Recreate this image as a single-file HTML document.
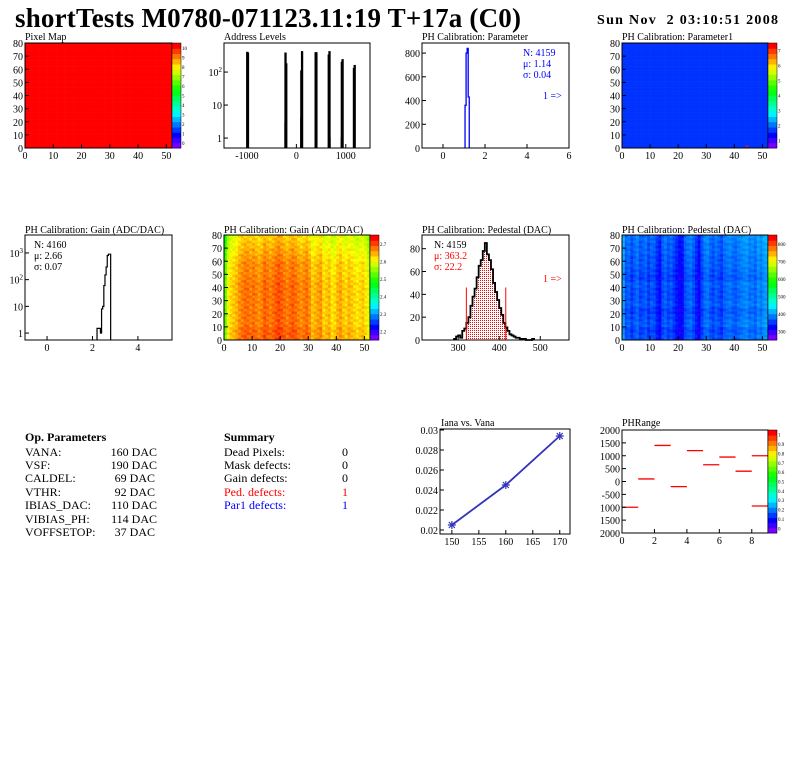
<!DOCTYPE html>
<html><head><meta charset="utf-8"><style>
html,body{margin:0;padding:0;background:#fff;width:796px;height:772px;overflow:hidden}
svg{display:block;font-family:"Liberation Serif",serif}
</style></head><body>
<svg id="c" width="796" height="772" xmlns="http://www.w3.org/2000/svg">
<defs><pattern id="dots" width="2" height="2" patternUnits="userSpaceOnUse"><rect width="2" height="2" fill="#fff"/><rect width="1" height="1" fill="#f00"/></pattern></defs>
<text x="15" y="27" font-size="27" font-weight="bold" textLength="506">shortTests M0780-071123.11:19 T+17a (C0)</text>
<text x="597" y="24" font-size="14" font-weight="bold" textLength="181" style="white-space:pre">Sun Nov  2 03:10:51 2008</text>
<g font-size="12">
<text x="25" y="441" font-weight="bold">Op. Parameters</text>
<text x="25" y="456">VANA:</text><text x="157" y="456" text-anchor="end">160 DAC</text>
<text x="25" y="469">VSF:</text><text x="157" y="469" text-anchor="end">190 DAC</text>
<text x="25" y="482">CALDEL:</text><text x="155" y="482" text-anchor="end">69 DAC</text>
<text x="25" y="496">VTHR:</text><text x="155" y="496" text-anchor="end">92 DAC</text>
<text x="25" y="509">IBIAS_DAC:</text><text x="157" y="509" text-anchor="end">110 DAC</text>
<text x="25" y="523">VIBIAS_PH:</text><text x="157" y="523" text-anchor="end">114 DAC</text>
<text x="25" y="536">VOFFSETOP:</text><text x="155" y="536" text-anchor="end">37 DAC</text>
</g>
<g font-size="12">
<text x="224" y="441" font-weight="bold">Summary</text>
<text x="224" y="456">Dead Pixels:</text><text x="348" y="456" text-anchor="end">0</text>
<text x="224" y="469">Mask defects:</text><text x="348" y="469" text-anchor="end">0</text>
<text x="224" y="482">Gain defects:</text><text x="348" y="482" text-anchor="end">0</text>
<text x="224" y="496" fill="#f00">Ped. defects:</text><text x="348" y="496" text-anchor="end" fill="#f00">1</text>
<text x="224" y="509" fill="#00f">Par1 defects:</text><text x="348" y="509" text-anchor="end" fill="#00f">1</text>
</g>
</svg>
<script>
// ---------- data ----------
const addrBinsX=[-1010,-995,-235,-220,85,100,375,390,640,655,905,920,1150,1165,-235,85,655,905];
const addrBinsY=[400,380,380,180,110,420,390,390,330,420,200,240,130,160,3,4,1,1];
const parBinsX=[1.05,1.10,1.15,1.20];
const parBinsY=[360,800,840,430];
const gainBinsX=[2.20,2.35,2.40,2.45,2.50,2.55,2.60,2.65,2.70];
const gainBinsY=[1.5,1,8,10,60,150,300,800,900];
const pedBinsX=[290,295,300,305,310,315,320,325,330,335,340,345,350,355,360,365,370,375,380,385,390,395,400,405,410,415,420,425,430,435,440,445,450,455,460,480];
const pedBinsY=[1,3,4,2,8,10,15,20,30,38,45,55,65,70,78,85,75,70,62,50,42,35,28,22,15,11,8,5,4,3,2,2,1,1,1,1];
const ianaX=[150,160,170];
const ianaY=[0.0205,0.0245,0.0294];
const phrX=[0,1,2,3,4,5,6,7,8,8];
const phrY=[-1000,100,1400,-200,1200,650,950,400,1000,-950];
const gainCols=[2.55,2.64,2.66,2.67,2.68,2.70,2.71,2.72,2.72,2.71,2.72,2.71,2.70,2.71,2.73,2.72,2.71,2.72,2.73,2.74,2.73,2.72,2.71,2.72,2.73,2.72,2.71,2.70,2.71,2.72,2.70,2.67,2.68,2.69,2.70,2.66,2.67,2.68,2.65,2.66,2.68,2.69,2.67,2.66,2.68,2.67,2.66,2.65,2.66,2.67,2.65,2.62];
const gainRows=[0.01,0.01,0,0,0,0,0,0,0,-0.005,-0.01,-0.01,-0.02,-0.03,-0.04,-0.05];
const pedCols=[420,380,390,370,385,395,375,380,390,370,385,380,360,345,380,390,375,385,370,355,340,345,380,390,395,380,360,340,375,395,400,385,375,390,380,370,390,395,400,390,385,395,400,405,410,395,400,390,410,400,415,420];
const pedRows=[0,-5,5,0,-5,5,0,0,5,-5,0,5,5,10,10,15];
const texture=[0,0.4,-0.3,0.2,-0.4,0.3,-0.1];
const param1Defects=[[44,1]];
// ---------- helpers ----------
const S=document.getElementById('c');const NS='http://www.w3.org/2000/svg';
function el(t,a,p){const e=document.createElementNS(NS,t);for(const k in a)e.setAttribute(k,a[k]);(p||S).appendChild(e);return e;}
function txt(x,y,s,fs,anchor,fill,p){const e=el('text',{x:x,y:y,'font-size':fs,'text-anchor':anchor||'start',fill:fill||'#000'},p);e.textContent=s;return e;}
function pal(t){t=Math.max(0,Math.min(1,t));return 'hsl('+Math.round(268*(1-t))+',100%,50%)';}
function lin(d0,d1,p0,p1){return v=>p0+(v-d0)*(p1-p0)/(d1-d0);}
function logs(d0,d1,p0,p1){return v=>p0+(Math.log10(v)-Math.log10(d0))*(p1-p0)/(Math.log10(d1)-Math.log10(d0));}
function frame(g,x0,y0,x1,y1){el('rect',{x:x0,y:y0,width:x1-x0,height:y1-y0,fill:'none',stroke:'#000','stroke-width':1},g);}
function xticks(g,sx,vals,labs,y1){vals.forEach((v,i)=>{const x=sx(v);el('line',{x1:x,y1:y1,x2:x,y2:y1-4,stroke:'#000'},g);txt(x,y1+11,labs[i],10,'middle','#000',g);});}
function yticks(g,sy,vals,labs,x0,sup){vals.forEach((v,i)=>{const y=sy(v);el('line',{x1:x0,y1:y,x2:x0+4,y2:y,stroke:'#000'},g);const t=txt(x0-2,y+4,labs[i],10,'end','#000',g);if(sup&&sup[i]){const s=el('tspan',{dy:-4,'font-size':7},t);s.textContent=sup[i];}});}
function title(g,x,y,s){txt(x,y,s,10,'start','#000',g);}
function palette(g,x,y0,y1,labs){const n=20;for(let i=0;i<n;i++){el('rect',{x:x,y:y1-(i+1)*(y1-y0)/n,width:9,height:(y1-y0)/n+0.5,fill:pal(i/(n-1))},g);}
 el('rect',{x:x,y:y0,width:9,height:y1-y0,fill:'none',stroke:'#000','stroke-width':0.5},g);
 labs.forEach((l,i)=>{const y=y1-(i+0.5)*(y1-y0)/labs.length;txt(x+10,y+2,l,5,'start','#000',g);});}
function map2d(g,name,x0,y0,x1,y1,val,vmin,vmax){const w=(x1-x0)/52,h=(y1-y0)/80;
 for(let i=0;i<52;i++)for(let j=0;j<80;j++){el('rect',{x:x0+i*w,y:y1-(j+1)*h,width:w+0.3,height:h+0.3,fill:pal((val(i,j)-vmin)/(vmax-vmin))},g);}
 const sx=lin(0,52,x0,x1),sy=lin(0,80,y1,y0);
 xticks(g,sx,[0,10,20,30,40,50],['0','10','20','30','40','50'],y1);
 yticks(g,sy,[0,10,20,30,40,50,60,70,80],['0','10','20','30','40','50','60','70','80'],x0);
 frame(g,x0,y0,x1,y1);}
function grp(name){const g=el('g',{});return g;}
function stepPath(xs,ys,bw,sx,sy,base){let d='M'+sx(xs[0])+' '+base;xs.forEach((x,i)=>{d+=' V'+sy(ys[i])+' H'+sx(x+bw);if(i+1<xs.length&&Math.abs(xs[i+1]-(x+bw))>1e-6)d+=' V'+base+' H'+sx(xs[i+1]);});return d+' V'+base;}
// ---------- Pixel Map ----------
let g=grp('pixel-map');title(g,25,40,'Pixel Map');
map2d(g,'pm',25,43,172,148,()=>10,0,10);palette(g,172,43,148,['0','1','2','3','4','5','6','7','8','9','10']);
// ---------- Address Levels ----------
g=grp('address-levels');title(g,224,40,'Address Levels');
{const sx=lin(-1465,1490,224,370),sy=logs(0.5,760,148,43);
 addrBinsX.forEach((x,i)=>{const b=el('rect',{x:sx(x),y:sy(addrBinsY[i]),width:Math.max(1.5,sx(x+15)-sx(x)),height:148-sy(addrBinsY[i]),fill:'#000',stroke:'#000','stroke-width':0.8},g);});
 frame(g,224,43,370,148);xticks(g,sx,[-1000,0,1000],['-1000','0','1000'],148);
 yticks(g,sy,[1,10,100],['1','10','10'],224,[null,null,'2']);}
// ---------- PH Param ----------
g=grp('ph-calibration-parameter');title(g,422,40,'PH Calibration: Parameter');
{const sx=lin(-1,6,422,569),sy=lin(0,885,148,43);
 const p=el('path',{d:stepPath(parBinsX,parBinsY,0.05,sx,sy,148),fill:'none',stroke:'#00f','stroke-width':1.3},g);
 frame(g,422,43,569,148);xticks(g,sx,[0,2,4,6],['0','2','4','6'],148);yticks(g,sy,[0,200,400,600,800],['0','200','400','600','800'],422);
 txt(523,56,'N: 4159',10,'start','#00f',g);txt(523,67,'\u03bc: 1.14',10,'start','#00f',g);txt(523,78,'\u03c3: 0.04',10,'start','#00f',g);txt(543,99,'1 =>',10,'start','#00f',g);}
// ---------- Param1 map ----------
g=grp('ph-calibration-parameter1');title(g,622,40,'PH Calibration: Parameter1');
map2d(g,'p1',622,43,768,148,(i,j)=>param1Defects.some(d=>d[0]===i&&d[1]===j)?7.6:1.5,0.4,7.7);palette(g,768,43,148,['1','2','3','4','5','6','7']);
// ---------- Gain hist ----------
g=grp('ph-calibration-gain-hist');title(g,25,233,'PH Calibration: Gain (ADC/DAC)');
{const sx=lin(-0.97,5.5,25,172),sy=logs(0.55,4700,340,235);
 let d='M'+sx(gainBinsX[0])+' 340';gainBinsX.forEach((x,i)=>{const w=(i+1<gainBinsX.length?gainBinsX[i+1]:x+0.1);d+=' V'+sy(gainBinsY[i])+' H'+sx(w);});d+=' V340';
 const p=el('path',{d:d,fill:'none',stroke:'#000','stroke-width':1.2},g);
 frame(g,25,235,172,340);xticks(g,sx,[0,2,4],['0','2','4'],340);yticks(g,sy,[1,10,100,1000],['1','10','10','10'],25,[null,null,'2','3']);
 txt(34,248,'N: 4160',10,'start','#000',g);txt(34,259,'\u03bc: 2.66',10,'start','#000',g);txt(34,270,'\u03c3: 0.07',10,'start','#000',g);}
// ---------- Gain map ----------
g=grp('ph-calibration-gain-map');title(g,224,233,'PH Calibration: Gain (ADC/DAC)');
map2d(g,'gm',224,235,370,340,(i,j)=>gainCols[i]+gainRows[Math.floor(j/5)]+0.04*texture[(i*3+Math.floor(j/2))%7],2.15,2.78);palette(g,370,235,340,['2.2','2.3','2.4','2.5','2.6','2.7']);
// ---------- Pedestal hist ----------
g=grp('ph-calibration-pedestal-hist');title(g,422,233,'PH Calibration: Pedestal (DAC)');
{const sx=lin(212,570,422,569),sy=lin(0,92,340,235);
 pedBinsX.forEach((x,i)=>{if(x>=320&&x<416){el('rect',{x:sx(x),y:sy(pedBinsY[i]),width:sx(x+5)-sx(x)+0.3,height:340-sy(pedBinsY[i]),fill:'url(#dots)'},g);}});
 const p=el('path',{d:stepPath(pedBinsX,pedBinsY,5,sx,sy,340),fill:'none',stroke:'#000','stroke-width':1.8},g);
 [320,416].forEach(v=>el('line',{x1:sx(v),y1:340,x2:sx(v),y2:sy(46),stroke:'#f00','stroke-width':1},g));
 frame(g,422,235,569,340);xticks(g,sx,[300,400,500],['300','400','500'],340);yticks(g,sy,[0,20,40,60,80],['0','20','40','60','80'],422);
 txt(434,248,'N: 4159',10,'start','#000',g);txt(434,259,'\u03bc: 363.2',10,'start','#f00',g);txt(434,270,'\u03c3: 22.2',10,'start','#f00',g);txt(543,282,'1 =>',10,'start','#f00',g);}
// ---------- Pedestal map ----------
g=grp('ph-calibration-pedestal-map');title(g,622,233,'PH Calibration: Pedestal (DAC)');
map2d(g,'pdm',622,235,768,340,(i,j)=>pedCols[i]+pedRows[Math.floor(j/5)]+20*texture[(i*5+Math.floor(j/2))%7],290,830);palette(g,768,235,340,['300','400','500','600','700','800']);
// ---------- Iana vs Vana ----------
g=grp('iana-vs-vana');title(g,441,426,'Iana vs. Vana');
{const sx=lin(147.8,171.9,440,570),sy=lin(0.0196,0.0301,534,429);
 const pts=ianaX.map((x,i)=>sx(x)+','+sy(ianaY[i])).join(' ');
 const l=el('polyline',{points:pts,fill:'none',stroke:'#3333bb','stroke-width':1.8},g);
 ianaX.forEach((x,i)=>{const cx=sx(x),cy=sy(ianaY[i]);const m=el('path',{d:`M${cx-4} ${cy}H${cx+4}M${cx} ${cy-4}V${cy+4}M${cx-3} ${cy-3}L${cx+3} ${cy+3}M${cx-3} ${cy+3}L${cx+3} ${cy-3}`,stroke:'#3333bb','stroke-width':1.2},g);});
 frame(g,440,429,570,534);xticks(g,sx,[150,155,160,165,170],['150','155','160','165','170'],534);
 yticks(g,sy,[0.02,0.022,0.024,0.026,0.028,0.03],['0.02','0.022','0.024','0.026','0.028','0.03'],440);}
// ---------- PHRange ----------
g=grp('phrange');title(g,622,426,'PHRange');
{const sx=lin(0,9,622,768),sy=lin(-2000,2000,533,430);
 phrX.forEach((x,i)=>{const l=el('line',{x1:sx(x),y1:sy(phrY[i]),x2:sx(x+1),y2:sy(phrY[i]),stroke:'#f00','stroke-width':1.3},g);});
 frame(g,622,430,768,533);xticks(g,sx,[0,2,4,6,8],['0','2','4','6','8'],533);
 yticks(g,sy,[-2000,-1500,-1000,-500,0,500,1000,1500,2000],['2000','1500','1000','-500','0','500','1000','1500','2000'],622);
 palette(g,768,430,533,['0','0.1','0.2','0.3','0.4','0.5','0.6','0.7','0.8','0.9','1']);}
</script>
</body></html>
